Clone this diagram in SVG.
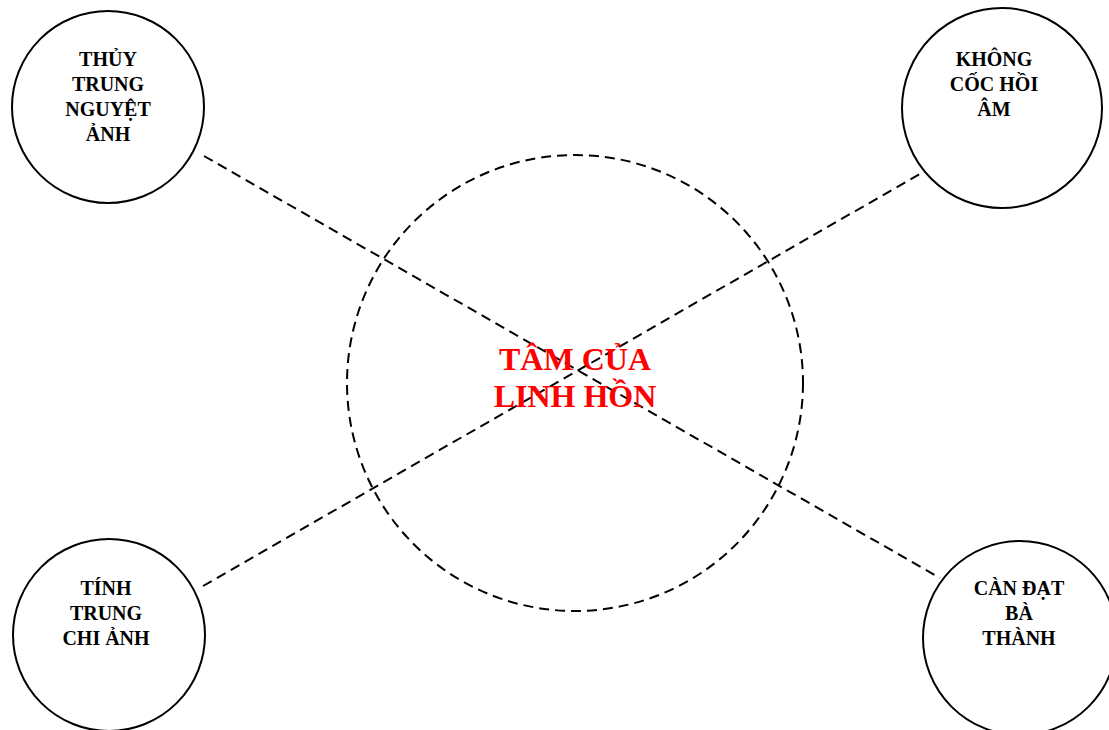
<svg xmlns="http://www.w3.org/2000/svg" width="1109" height="730" viewBox="0 0 1109 730">
<style>
.node{fill:#fff;stroke:#000;stroke-width:2}
.lbl{font-family:"Liberation Serif","Times New Roman",serif;font-weight:bold;font-size:20px;fill:#000;text-anchor:middle}
.dash{fill:none;stroke:#000;stroke-width:2;stroke-dasharray:10 6}
.center{font-family:"Liberation Serif","Times New Roman",serif;font-weight:bold;font-size:32px;fill:#ff0000;text-anchor:middle}
</style>
<rect width="1109" height="730" fill="#fff"/>
<g id="connectors">
<line class="dash" x1="204" y1="156" x2="940" y2="578"/>
<line class="dash" x1="203" y1="586" x2="925" y2="171"/>
</g>
<g id="center">
<circle class="dash" cx="575" cy="383" r="228"/>
<text class="center" x="575" y="370">TÂM CỦA</text>
<text class="center" x="575" y="407">LINH HỒN</text>
</g>
<g id="n1">
<circle class="node" cx="108" cy="107" r="96"/>
<text class="lbl" x="108" y="66">THỦY</text>
<text class="lbl" x="108" y="91">TRUNG</text>
<text class="lbl" x="108" y="116">NGUYỆT</text>
<text class="lbl" x="108" y="141">ẢNH</text>
</g>
<g id="n2">
<circle class="node" cx="1002" cy="108" r="100"/>
<text class="lbl" x="994" y="66">KHÔNG</text>
<text class="lbl" x="994" y="91">CỐC HỒI</text>
<text class="lbl" x="994" y="116">ÂM</text>
</g>
<g id="n3">
<circle class="node" cx="109" cy="635" r="96"/>
<text class="lbl" x="106" y="595">TÍNH</text>
<text class="lbl" x="106" y="620">TRUNG</text>
<text class="lbl" x="106" y="645">CHI ẢNH</text>
</g>
<g id="n4">
<circle class="node" cx="1020" cy="638" r="97"/>
<text class="lbl" x="1019" y="595">CÀN ĐẠT</text>
<text class="lbl" x="1019" y="620">BÀ</text>
<text class="lbl" x="1019" y="645">THÀNH</text>
</g>
</svg>
